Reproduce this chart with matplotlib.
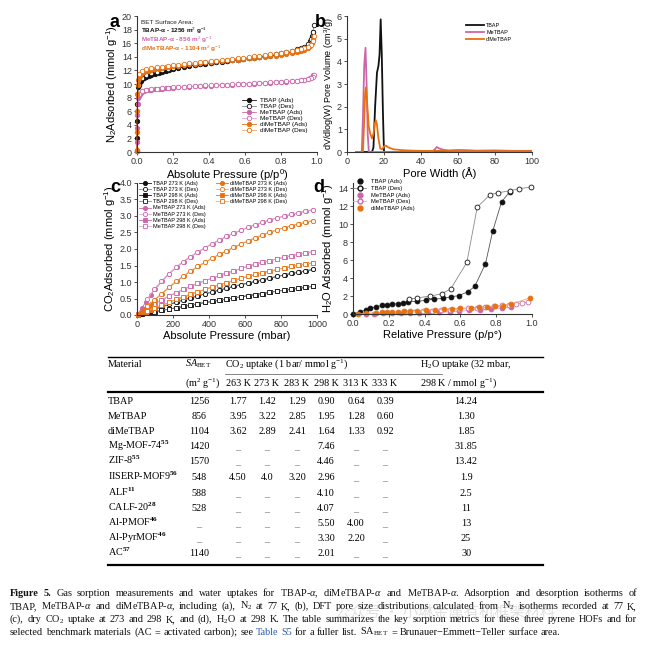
import numpy as np
import matplotlib.pyplot as plt
from matplotlib.lines import Line2D

plt.rcParams['font.family'] = ['Liberation Sans', 'DejaVu Sans']
plt.rcParams['mathtext.fontset'] = 'custom'
plt.rcParams['mathtext.rm'] = 'Liberation Serif'
plt.rcParams['mathtext.it'] = 'Liberation Serif:italic'
plt.rcParams['mathtext.bf'] = 'Liberation Serif:bold'
plt.rcParams['mathtext.sf'] = 'Liberation Sans'

BLACK = '#111111'
PINK = '#CC66AA'
ORANGE = '#E8700E'
GREY_L = '#8a8a8a'
PINK_L = '#E4A8D2'
ORANGE_L = '#F2AA70'

# ---- (a) N2 isotherms, 77 K ----
p_ads = [0.0, 0.0005, 0.001, 0.002, 0.004, 0.007, 0.01, 0.015, 0.02, 0.03, 0.04, 0.05, 0.065, 0.08,
         0.1, 0.12, 0.14, 0.16, 0.18, 0.2, 0.23, 0.26, 0.29, 0.32, 0.35, 0.38, 0.41, 0.44, 0.47, 0.5,
         0.53, 0.56, 0.59, 0.62, 0.65, 0.68, 0.71, 0.74, 0.77, 0.8, 0.83, 0.86, 0.89, 0.91, 0.93,
         0.95, 0.96, 0.97, 0.98]
tbap_n2_ads = [0.1, 2.0, 4.5, 7.0, 8.6, 9.5, 9.9, 10.3, 10.5, 10.7, 10.9, 11.0, 11.2, 11.3, 11.45,
               11.6, 11.75, 11.9, 12.05, 12.2, 12.35, 12.5, 12.65, 12.75, 12.9, 13.0, 13.1, 13.2,
               13.3, 13.4, 13.5, 13.55, 13.65, 13.75, 13.85, 13.95, 14.05, 14.15, 14.25, 14.4,
               14.5, 14.65, 14.85, 15.0, 15.3, 15.8, 16.3, 17.1, 17.6]
metbap_n2_ads = [0.1, 1.5, 3.5, 5.5, 7.0, 7.9, 8.3, 8.6, 8.75, 8.9, 9.0, 9.05, 9.1, 9.15, 9.2, 9.25,
                 9.3, 9.35, 9.4, 9.45, 9.5, 9.55, 9.6, 9.65, 9.7, 9.72, 9.75, 9.8, 9.85, 9.9, 9.92,
                 9.95, 10.0, 10.03, 10.06, 10.1, 10.15, 10.2, 10.25, 10.3, 10.35, 10.42, 10.5,
                 10.58, 10.65, 10.8, 10.9, 11.05, 11.25]
dimetbap_n2_ads = [0.3, 3.0, 6.0, 8.5, 9.9, 10.6, 10.9, 11.2, 11.4, 11.6, 11.75, 11.85, 11.95, 12.05,
                   12.15, 12.25, 12.35, 12.45, 12.5, 12.6, 12.7, 12.8, 12.9, 13.0, 13.1, 13.2, 13.25,
                   13.35, 13.4, 13.5, 13.55, 13.6, 13.7, 13.75, 13.8, 13.9, 13.95, 14.05, 14.15,
                   14.25, 14.35, 14.5, 14.65, 14.8, 15.0, 15.3, 15.6, 16.0, 16.6]
p_des = [0.985, 0.975, 0.965, 0.95, 0.93, 0.91, 0.89, 0.86, 0.83, 0.8, 0.77, 0.74, 0.71, 0.68, 0.65,
         0.62, 0.59, 0.56, 0.53, 0.5, 0.47, 0.44, 0.41, 0.38, 0.35, 0.32, 0.29, 0.26, 0.23, 0.2,
         0.17, 0.14, 0.11, 0.08, 0.05, 0.03, 0.01]
tbap_n2_des = [18.7, 17.6, 16.6, 15.9, 15.5, 15.3, 15.1, 14.85, 14.65, 14.5, 14.35, 14.2, 14.1, 14.0,
               13.9, 13.8, 13.7, 13.6, 13.5, 13.4, 13.35, 13.25, 13.15, 13.05, 12.95, 12.85, 12.75,
               12.6, 12.5, 12.35, 12.2, 12.0, 11.8, 11.6, 11.3, 10.9, 9.8]
metbap_n2_des = [11.35, 11.1, 10.95, 10.8, 10.65, 10.55, 10.5, 10.45, 10.4, 10.35, 10.3, 10.25, 10.2,
                 10.15, 10.1, 10.05, 10.0, 9.98, 9.95, 9.92, 9.9, 9.85, 9.8, 9.78, 9.75, 9.7, 9.65,
                 9.6, 9.55, 9.5, 9.45, 9.4, 9.3, 9.25, 9.15, 9.0, 8.6]
dimetbap_n2_des = [17.0, 16.3, 15.8, 15.45, 15.25, 15.1, 14.95, 14.8, 14.65, 14.55, 14.45, 14.35,
                   14.25, 14.15, 14.05, 13.95, 13.85, 13.8, 13.7, 13.6, 13.5, 13.45, 13.4, 13.3, 13.2,
                   13.15, 13.05, 12.95, 12.85, 12.75, 12.65, 12.55, 12.45, 12.3, 12.15, 11.95, 11.5]

# ---- (b) pore size distributions ----
tbap_w = [5, 13.5, 14.3, 15.2, 16.2, 17.0, 17.6, 18.2, 18.8, 19.4, 20.0, 100]
tbap_psd = [0, 0, 0.2, 2.0, 3.5, 3.8, 4.3, 5.85, 4.3, 1.8, 0.0, 0]
metbap_w = [5, 8.0, 8.6, 9.3, 10.0, 10.6, 11.2, 11.8, 40, 46.0, 47.5, 48.5, 50, 52, 55, 60, 65, 70,
            80, 90, 100]
metbap_psd = [0, 0, 1.5, 3.8, 4.6, 3.0, 0.8, 0, 0, 0.02, 0.12, 0.22, 0.15, 0.1, 0.07, 0.09, 0.08,
              0.06, 0.07, 0.05, 0.05]
dimetbap_w = [7, 8.6, 9.2, 9.8, 10.3, 11.0, 11.8, 12.6, 13.5, 14.3, 15.0, 15.6, 16.2, 17.0, 18.0,
              19.0, 20.0, 21.0, 22.5, 25, 30, 35, 40, 50, 60, 70, 80, 90, 100]
dimetbap_psd = [0, 0, 1.2, 2.6, 2.85, 2.0, 1.1, 0.8, 0.6, 0.8, 1.25, 1.4, 1.2, 0.6, 0.15, 0.12, 0.25,
                0.28, 0.2, 0.12, 0.08, 0.06, 0.05, 0.05, 0.04, 0.04, 0.04, 0.04, 0.04]

# ---- (c) CO2 isotherms ----
p_co2_ads = [5, 25, 50, 75, 100, 140, 180, 220, 260, 300, 340, 380, 420, 460, 500, 540, 580, 620,
             660, 700, 740, 780, 820, 860, 900, 940, 980]
p_co2_des = [975, 935, 895, 855, 815, 775, 735, 695, 655, 615, 575, 535, 495, 455, 415, 375, 335,
             295, 255, 215, 175, 135, 95, 55]
tbap273_ads = [0.01, 0.04, 0.09, 0.13, 0.18, 0.25, 0.32, 0.39, 0.46, 0.52, 0.58, 0.64, 0.7, 0.76,
               0.81, 0.87, 0.92, 0.97, 1.02, 1.07, 1.12, 1.17, 1.21, 1.26, 1.3, 1.34, 1.38]
tbap273_des = [1.38, 1.34, 1.3, 1.26, 1.21, 1.17, 1.12, 1.07, 1.02, 0.97, 0.92, 0.87, 0.81, 0.76,
               0.7, 0.64, 0.58, 0.52, 0.46, 0.39, 0.32, 0.25, 0.18, 0.1]
tbap298_ads = [0.0, 0.03, 0.05, 0.08, 0.1, 0.14, 0.18, 0.22, 0.26, 0.3, 0.34, 0.38, 0.41, 0.45,
               0.48, 0.52, 0.55, 0.59, 0.62, 0.65, 0.69, 0.72, 0.75, 0.78, 0.81, 0.84, 0.87]
tbap298_des = [0.87, 0.84, 0.81, 0.78, 0.75, 0.72, 0.69, 0.65, 0.62, 0.59, 0.55, 0.52, 0.48, 0.45,
               0.41, 0.38, 0.34, 0.3, 0.26, 0.22, 0.18, 0.14, 0.1, 0.06]
metbap273_ads = [0.04, 0.2, 0.4, 0.6, 0.78, 1.03, 1.25, 1.45, 1.62, 1.77, 1.91, 2.04, 2.16, 2.27,
                 2.38, 2.48, 2.57, 2.66, 2.74, 2.81, 2.88, 2.94, 3.0, 3.05, 3.1, 3.15, 3.19]
metbap273_des = [3.19, 3.15, 3.1, 3.05, 3.0, 2.94, 2.88, 2.81, 2.74, 2.66, 2.57, 2.48, 2.38, 2.27,
                 2.16, 2.04, 1.91, 1.77, 1.62, 1.45, 1.25, 1.03, 0.78, 0.47]
metbap298_ads = [0.02, 0.08, 0.17, 0.26, 0.34, 0.46, 0.57, 0.68, 0.78, 0.87, 0.96, 1.04, 1.12, 1.2,
                 1.27, 1.34, 1.41, 1.48, 1.54, 1.6, 1.65, 1.7, 1.75, 1.8, 1.84, 1.88, 1.92]
metbap298_des = [1.92, 1.88, 1.84, 1.8, 1.75, 1.7, 1.65, 1.6, 1.54, 1.48, 1.41, 1.34, 1.27, 1.2,
                 1.12, 1.04, 0.96, 0.87, 0.78, 0.68, 0.57, 0.46, 0.34, 0.2]
dimetbap273_ads = [0.02, 0.1, 0.22, 0.34, 0.46, 0.65, 0.84, 1.02, 1.18, 1.33, 1.47, 1.6, 1.72, 1.84,
                   1.95, 2.05, 2.15, 2.25, 2.34, 2.43, 2.51, 2.58, 2.65, 2.71, 2.76, 2.81, 2.86]
dimetbap273_des = [2.86, 2.81, 2.76, 2.71, 2.65, 2.58, 2.51, 2.43, 2.34, 2.25, 2.15, 2.05, 1.95,
                   1.84, 1.72, 1.6, 1.47, 1.33, 1.18, 1.02, 0.84, 0.65, 0.46, 0.26]
dimetbap298_ads = [0.01, 0.05, 0.1, 0.15, 0.21, 0.3, 0.38, 0.47, 0.55, 0.63, 0.7, 0.78, 0.85, 0.92,
                   0.98, 1.05, 1.11, 1.17, 1.23, 1.28, 1.33, 1.38, 1.43, 1.47, 1.51, 1.55, 1.58]
dimetbap298_des = [1.58, 1.55, 1.51, 1.47, 1.43, 1.38, 1.33, 1.28, 1.23, 1.17, 1.11, 1.05, 0.98,
                   0.92, 0.85, 0.78, 0.7, 0.63, 0.55, 0.47, 0.38, 0.3, 0.21, 0.12]

# ---- (d) H2O isotherms, 298 K ----
tbap_h2o_ads_p = [0.0, 0.037, 0.07, 0.097, 0.13, 0.16, 0.19, 0.22, 0.25, 0.28, 0.31, 0.36, 0.41,
                  0.45, 0.5, 0.545, 0.59, 0.64, 0.68, 0.74, 0.78, 0.83, 0.875]
tbap_h2o_ads = [0.0, 0.2, 0.44, 0.65, 0.8, 0.95, 1.0, 1.1, 1.15, 1.25, 1.35, 1.42, 1.53, 1.64, 1.75,
                1.9, 2.05, 2.45, 3.07, 5.6, 9.2, 12.5, 13.6]
tbap_h2o_des_p = [0.993, 0.925, 0.877, 0.81, 0.765, 0.694, 0.636, 0.546, 0.496, 0.43, 0.36, 0.313]
tbap_h2o_des = [14.15, 13.95, 13.75, 13.5, 13.3, 11.9, 5.75, 2.8, 2.25, 2.0, 1.8, 1.65]
metbap_h2o_ads_p = [0.07, 0.12, 0.17, 0.22, 0.27, 0.32, 0.37, 0.42, 0.48, 0.54, 0.59, 0.65, 0.71,
                    0.77, 0.83, 0.88]
metbap_h2o_ads = [0.02, 0.04, 0.06, 0.08, 0.1, 0.12, 0.14, 0.17, 0.2, 0.25, 0.3, 0.4, 0.5, 0.6,
                  0.68, 0.75]
metbap_h2o_des_p = [0.98, 0.945, 0.91, 0.87, 0.83, 0.79, 0.74, 0.69, 0.64, 0.59, 0.54, 0.49, 0.44,
                    0.39, 0.34, 0.29]
metbap_h2o_des = [1.3, 1.25, 1.15, 1.05, 0.98, 0.9, 0.8, 0.7, 0.62, 0.55, 0.5, 0.44, 0.38, 0.32,
                  0.27, 0.22]
dimetbap_h2o_ads_p = [0.03, 0.075, 0.13, 0.16, 0.19, 0.22, 0.25, 0.285, 0.32, 0.36, 0.41, 0.46,
                      0.51, 0.555, 0.6, 0.66, 0.705, 0.75, 0.795, 0.84, 0.885, 0.99]
dimetbap_h2o_ads = [0.02, 0.07, 0.15, 0.18, 0.2, 0.22, 0.25, 0.3, 0.33, 0.37, 0.44, 0.47, 0.55, 0.58,
                    0.62, 0.7, 0.73, 0.77, 0.84, 0.91, 1.09, 1.82]

# ---- table ----
materials = ['TBAP', 'MeTBAP', 'diMeTBAP', 'Mg-MOF-74', 'ZIF-8', 'IISERP-MOF9', 'ALF', 'CALF-20',
             'Al-PMOF', 'Al-PyrMOF', 'AC']
refs = ['', '', '', '55', '55', '56', '11', '28', '46', '46', '57']
sa_bet = ['1256', '856', '1104', '1420', '1570', '548', '588', '528', '_', '_', '1140']
co2_263 = ['1.77', '3.95', '3.62', '_', '_', '4.50', '_', '_', '_', '_', '_']
co2_273 = ['1.42', '3.22', '2.89', '_', '_', '4.0', '_', '_', '_', '_', '_']
co2_283 = ['1.29', '2.85', '2.41', '_', '_', '3.20', '_', '_', '_', '_', '_']
co2_298 = ['0.90', '1.95', '1.64', '7.46', '4.46', '2.96', '4.10', '4.07', '5.50', '3.30', '2.01']
co2_313 = ['0.64', '1.28', '1.33', '_', '_', '_', '_', '_', '4.00', '2.20', '_']
co2_333 = ['0.39', '0.60', '0.92', '_', '_', '_', '_', '_', '_', '_', '_']
h2o_uptake = ['14.24', '1.30', '1.85', '31.85', '13.42', '1.9', '2.5', '11', '13', '25', '30']
temps = ['263 K', '273 K', '283 K', '298 K', '313 K', '333 K']

W, H = 646, 645
fig = plt.figure(figsize=(W / 100, H / 100), dpi=100)


def px_axes(l, t, r, b):
    return fig.add_axes([l / W, 1 - b / H, (r - l) / W, (b - t) / H])


def style(ax):
    for s in ['top', 'right']:
        ax.spines[s].set_visible(False)
    for s in ['left', 'bottom']:
        ax.spines[s].set_linewidth(0.8)
        ax.spines[s].set_color('#333333')
    ax.tick_params(direction='out', length=2.5, width=0.6, labelsize=6.5, pad=1.2,
                   colors='#333333')


def iso(ax, x, y, color, line, filled, ms=3.2, marker='o', label=None):
    mfc = color if filled else 'white'
    return ax.plot(x, y, '-', marker=marker, color=line, mfc=mfc, mec=color, ms=ms,
                   lw=0.6, mew=0.6, label=label, clip_on=False)[0]


# panel a
ax = px_axes(137, 16, 317, 152)
style(ax)
iso(ax, p_ads, tbap_n2_ads, BLACK, BLACK, True, label='TBAP (Ads)')
iso(ax, p_des, tbap_n2_des, BLACK, GREY_L, False, label='TBAP (Des)')
iso(ax, p_ads, metbap_n2_ads, PINK, PINK, True, label='MeTBAP (Ads)')
iso(ax, p_des, metbap_n2_des, PINK, PINK_L, False, label='MeTBAP (Des)')
iso(ax, p_ads, dimetbap_n2_ads, ORANGE, ORANGE, True, label='diMeTBAP (Ads)')
iso(ax, p_des, dimetbap_n2_des, ORANGE, ORANGE_L, False, label='diMeTBAP (Des)')
ax.set_xlim(0, 1)
ax.set_ylim(0, 20)
ax.set_xticks(np.arange(0, 1.01, 0.2))
ax.set_yticks(range(0, 21, 2))
ax.xaxis.set_major_formatter('{x:.1f}')
ax.set_xlabel(r'Absolute Pressure (p/p$^\mathsf{0}$)', fontsize=8, labelpad=1)
ax.set_ylabel(r'N$_\mathsf{2}$Adsorbed (mmol g$^\mathsf{-1}$)', fontsize=8, labelpad=1)
ax.legend(loc='upper left', bbox_to_anchor=(0.585, 0.40), frameon=False, fontsize=4.6,
          borderpad=0, borderaxespad=0, handlelength=2.2, handletextpad=0.6, labelspacing=0.08)
ax.text(0.022, 0.955, 'BET Surface Area:', transform=ax.transAxes, fontsize=4.6, color='#222',
        va='center')
ax.text(0.022, 0.89, r'TBAP-α - 1256 m$^\mathsf{2}$ g$^\mathsf{-1}$', transform=ax.transAxes,
        fontsize=4.6, color=BLACK, weight='bold', va='center')
ax.text(0.022, 0.825, r'MeTBAP-α - 856 m$^\mathsf{2}$ g$^\mathsf{-1}$', transform=ax.transAxes,
        fontsize=4.6, color=PINK, weight='bold', va='center')
ax.text(0.022, 0.755, r'diMeTBAP-α - 1104 m$^\mathsf{2}$ g$^\mathsf{-1}$', transform=ax.transAxes,
        fontsize=4.6, color=ORANGE, weight='bold', va='center')

# panel b
ax = px_axes(347, 16, 532, 152)
style(ax)
ax.plot(tbap_w, tbap_psd, color=BLACK, lw=1.3, label='TBAP')
ax.plot(metbap_w, metbap_psd, color=PINK, lw=1.3, label='MeTBAP')
ax.plot(dimetbap_w, dimetbap_psd, color=ORANGE, lw=1.3, label='diMeTBAP')
ax.set_xlim(0, 100)
ax.set_ylim(0, 6)
ax.set_xticks(range(0, 101, 20))
ax.set_yticks(range(0, 7))
ax.set_xlabel('Pore Width (Å)', fontsize=8, labelpad=1)
ax.set_ylabel(r'dV/dlog(W) Pore Volume (cm$^\mathsf{3}$/g)', fontsize=6.5, labelpad=1)
ax.legend(loc='upper left', bbox_to_anchor=(0.645, 0.95), frameon=False, fontsize=3.9,
          borderpad=0, borderaxespad=0, handlelength=3.2, handletextpad=0.45, labelspacing=0.4)

# panel c
ax = px_axes(137, 183, 317, 315)
style(ax)
hs = []
hs.append(iso(ax, p_co2_ads, tbap273_ads, BLACK, BLACK, True, 3.0, 'o', 'TBAP 273 K (Ads)'))
hs.append(iso(ax, p_co2_des, tbap273_des, BLACK, GREY_L, False, 3.0, 'o', 'TBAP 273 K (Des)'))
hs.append(iso(ax, p_co2_ads, tbap298_ads, BLACK, BLACK, True, 2.8, 's', 'TBAP 298 K (Ads)'))
hs.append(iso(ax, p_co2_des, tbap298_des, BLACK, GREY_L, False, 2.8, 's', 'TBAP 298 K (Des)'))
hs.append(iso(ax, p_co2_ads, metbap273_ads, PINK, PINK, True, 3.0, 'o', 'MeTBAP 273 K (Ads)'))
hs.append(iso(ax, p_co2_des, metbap273_des, PINK, PINK_L, False, 3.0, 'o', 'MeTBAP 273 K (Des)'))
hs.append(iso(ax, p_co2_ads, metbap298_ads, PINK, PINK, True, 2.8, 's', 'MeTBAP 298 K (Ads)'))
hs.append(iso(ax, p_co2_des, metbap298_des, PINK, PINK_L, False, 2.8, 's', 'MeTBAP 298 K (Des)'))
hs.append(iso(ax, p_co2_ads, dimetbap273_ads, ORANGE, ORANGE, True, 3.0, 'o', 'diMeTBAP 273 K (Ads)'))
hs.append(iso(ax, p_co2_des, dimetbap273_des, ORANGE, ORANGE_L, False, 3.0, 'o', 'diMeTBAP 273 K (Des)'))
hs.append(iso(ax, p_co2_ads, dimetbap298_ads, ORANGE, ORANGE, True, 2.8, 's', 'diMeTBAP 298 K (Ads)'))
hs.append(iso(ax, p_co2_des, dimetbap298_des, ORANGE, ORANGE_L, False, 2.8, 's', 'diMeTBAP 298 K (Des)'))
ax.set_xlim(0, 1000)
ax.set_ylim(0, 4)
ax.set_xticks(range(0, 1001, 200))
ax.set_yticks(np.arange(0, 4.01, 0.5))
ax.yaxis.set_major_formatter('{x:.1f}')
ax.set_xlabel('Absolute Pressure (mbar)', fontsize=8, labelpad=1)
ax.set_ylabel(r'CO$_\mathsf{2}$Adsorbed (mmol g$^\mathsf{-1}$)', fontsize=8, labelpad=1)
leg_kw = dict(frameon=False, fontsize=4.0, borderpad=0, borderaxespad=0, handlelength=2.1,
              handletextpad=0.4, labelspacing=0.2, loc='upper left')
leg1 = ax.legend(handles=hs[:8], bbox_to_anchor=(0.012, 1.015), **leg_kw)
ax.add_artist(leg1)
ax.legend(handles=hs[8:], bbox_to_anchor=(0.44, 1.015), **leg_kw)

# panel d
ax = px_axes(353, 183, 532, 314)
style(ax)
iso(ax, tbap_h2o_ads_p, tbap_h2o_ads, BLACK, '#555555', True, 3.5)
iso(ax, tbap_h2o_des_p, tbap_h2o_des, BLACK, GREY_L, False, 3.5)
iso(ax, metbap_h2o_ads_p, metbap_h2o_ads, PINK, PINK_L, True, 3.5)
iso(ax, metbap_h2o_des_p, metbap_h2o_des, PINK, PINK_L, False, 3.5)
iso(ax, dimetbap_h2o_ads_p, dimetbap_h2o_ads, ORANGE, ORANGE_L, True, 3.5)
ax.set_xlim(0, 1)
ax.set_ylim(0, 14.6)
ax.set_xticks(np.arange(0, 1.01, 0.2))
ax.set_yticks(range(0, 15, 2))
ax.xaxis.set_major_formatter('{x:.1f}')
ax.set_xlabel('Relative Pressure (p/p°)', fontsize=8, labelpad=1)
ax.set_ylabel(r'H$_\mathsf{2}$O Adsorbed (mmol g$^\mathsf{-1}$)', fontsize=8, labelpad=1)
dh = [Line2D([], [], ls='none', marker='o', color=BLACK, ms=3.5),
      Line2D([], [], ls='-', lw=0.6, color=GREY_L, marker='o', mfc='white', mec=BLACK, ms=3.5),
      Line2D([], [], ls='none', marker='o', color=PINK, ms=3.5),
      Line2D([], [], ls='-', lw=0.6, color=PINK_L, marker='o', mfc='white', mec=PINK, ms=3.5),
      Line2D([], [], ls='none', marker='o', color=ORANGE, ms=3.5)]
ax.legend(dh, ['TBAP (Ads)', 'TBAP (Des)', 'MeTBAP (Ads)', 'MeTBAP (Des)', 'diMeTBAP (Ads)'],
          loc='upper left', bbox_to_anchor=(0.0, 1.03), frameon=False, fontsize=4.2, borderpad=0,
          borderaxespad=0, handlelength=2.3, handletextpad=0.8, labelspacing=0.28)

# overlay in pixel coordinates for letters, table and caption
ov = fig.add_axes([0, 0, 1, 1])
ov.set_xlim(0, W)
ov.set_ylim(H, 0)
ov.axis('off')

for letter, x, y in [('a', 110, 27), ('b', 315, 27), ('c', 110, 192), ('d', 313, 192)]:
    ov.text(x, y, letter, fontsize=13, weight='bold', va='baseline', ha='left')

serif = 'Liberation Serif'
tfs = 7.3
ov.plot([108, 543], [357, 357], color='black', lw=1.0)
ov.plot([225, 442], [374, 374], color='#555555', lw=0.5)
ov.plot([108, 543], [392, 392], color='black', lw=1.6)
ov.text(108, 367, 'Material', fontsize=tfs, family=serif, va='baseline')
ov.text(185, 367, r'$SA_{\mathrm{BET}}$', fontsize=tfs, family=serif, va='baseline')
ov.text(185, 386, r'(m$^2$ g$^{-1}$)', fontsize=tfs, family=serif, va='baseline')
ov.text(225, 367, r'CO$_2$ uptake (1 bar/ mmol g$^{-1}$)', fontsize=tfs, family=serif,
        va='baseline')
ov.text(420, 367, r'H$_2$O uptake (32 mbar,', fontsize=tfs, family=serif, va='baseline')
ov.text(420, 386, r'298 K / mmol g$^{-1}$)', fontsize=tfs, family=serif, va='baseline')
col_x = [238, 267, 297, 326, 356, 385]
for cx, tk in zip(col_x, temps):
    ov.text(cx, 386, tk, fontsize=tfs, family=serif, va='baseline', ha='center')

row_y = [404, 419, 434, 449, 464, 480, 496, 511, 526, 541, 556]
cols = [sa_bet, co2_263, co2_273, co2_283, co2_298, co2_313, co2_333, h2o_uptake]
cols_x = [199] + col_x + [466]
for i, yb in enumerate(row_y):
    name = materials[i]
    if refs[i]:
        name = name + r'$^{\mathbf{' + refs[i] + '}}$'
    ov.text(108, yb, name, fontsize=tfs, family=serif, va='baseline')
    for vals, cx in zip(cols, cols_x):
        v = vals[i]
        ov.text(cx, yb, v, fontsize=tfs, family=serif, va='baseline', ha='center',
                color='#666666' if v == '_' else 'black')
ov.plot([108, 543], [565, 565], color='black', lw=1.6)

# caption, justified
cap_fs = 7.4
cap_lines = [
    r'*Figure *5. Gas sorption measurements and water uptakes for TBAP-$\alpha$, diMeTBAP-$\alpha$ and MeTBAP-$\alpha$. Adsorption and desorption isotherms of',
    r'TBAP, MeTBAP-$\alpha$ and diMeTBAP-$\alpha$, including (a), N$_2$ at 77 K, (b), DFT pore size distributions calculated from N$_2$ isotherms recorded at 77 K,',
    r'(c), dry CO$_2$ uptake at 273 and 298 K, and (d), H$_2$O at 298 K. The table summarizes the key sorption metrics for these three pyrene HOFs and for',
    r'selected benchmark materials (AC = activated carbon); see #Table #S5 for a fuller list. SA$_{\mathrm{BET}}$ = Brunauer−Emmett−Teller surface area.',
]
cap_y = [596, 609, 622, 635]
x0, x1 = 10, 637
renderer = fig.canvas.get_renderer()
for k, (line, yb) in enumerate(zip(cap_lines, cap_y)):
    objs = []
    for tok in line.split(' '):
        kw = dict(fontsize=cap_fs, family=serif, va='baseline', ha='left', color='#111111')
        if tok.startswith('*'):
            tok = tok[1:]
            kw['weight'] = 'bold'
        if tok.startswith('#'):
            tok = tok[1:]
            kw['color'] = '#2a5ca8'
        objs.append(ov.text(0, yb, tok, **kw))
    widths = [t.get_window_extent(renderer).width for t in objs]
    if k < len(cap_lines) - 1:
        gap = (x1 - x0 - sum(widths)) / (len(objs) - 1)
    else:
        gap = cap_fs * 1.389 * 0.27
    x = x0
    for t, w in zip(objs, widths):
        t.set_x(x)
        x += w + gap

ov.text(335, 612, '公众号 · 小琳金属有机框架材料', fontsize=11, color='#9a9a9a', alpha=0.3,
        family=['Noto Sans CJK SC', 'DejaVu Sans'], va='center')

fig.savefig('out.png', dpi=100)
